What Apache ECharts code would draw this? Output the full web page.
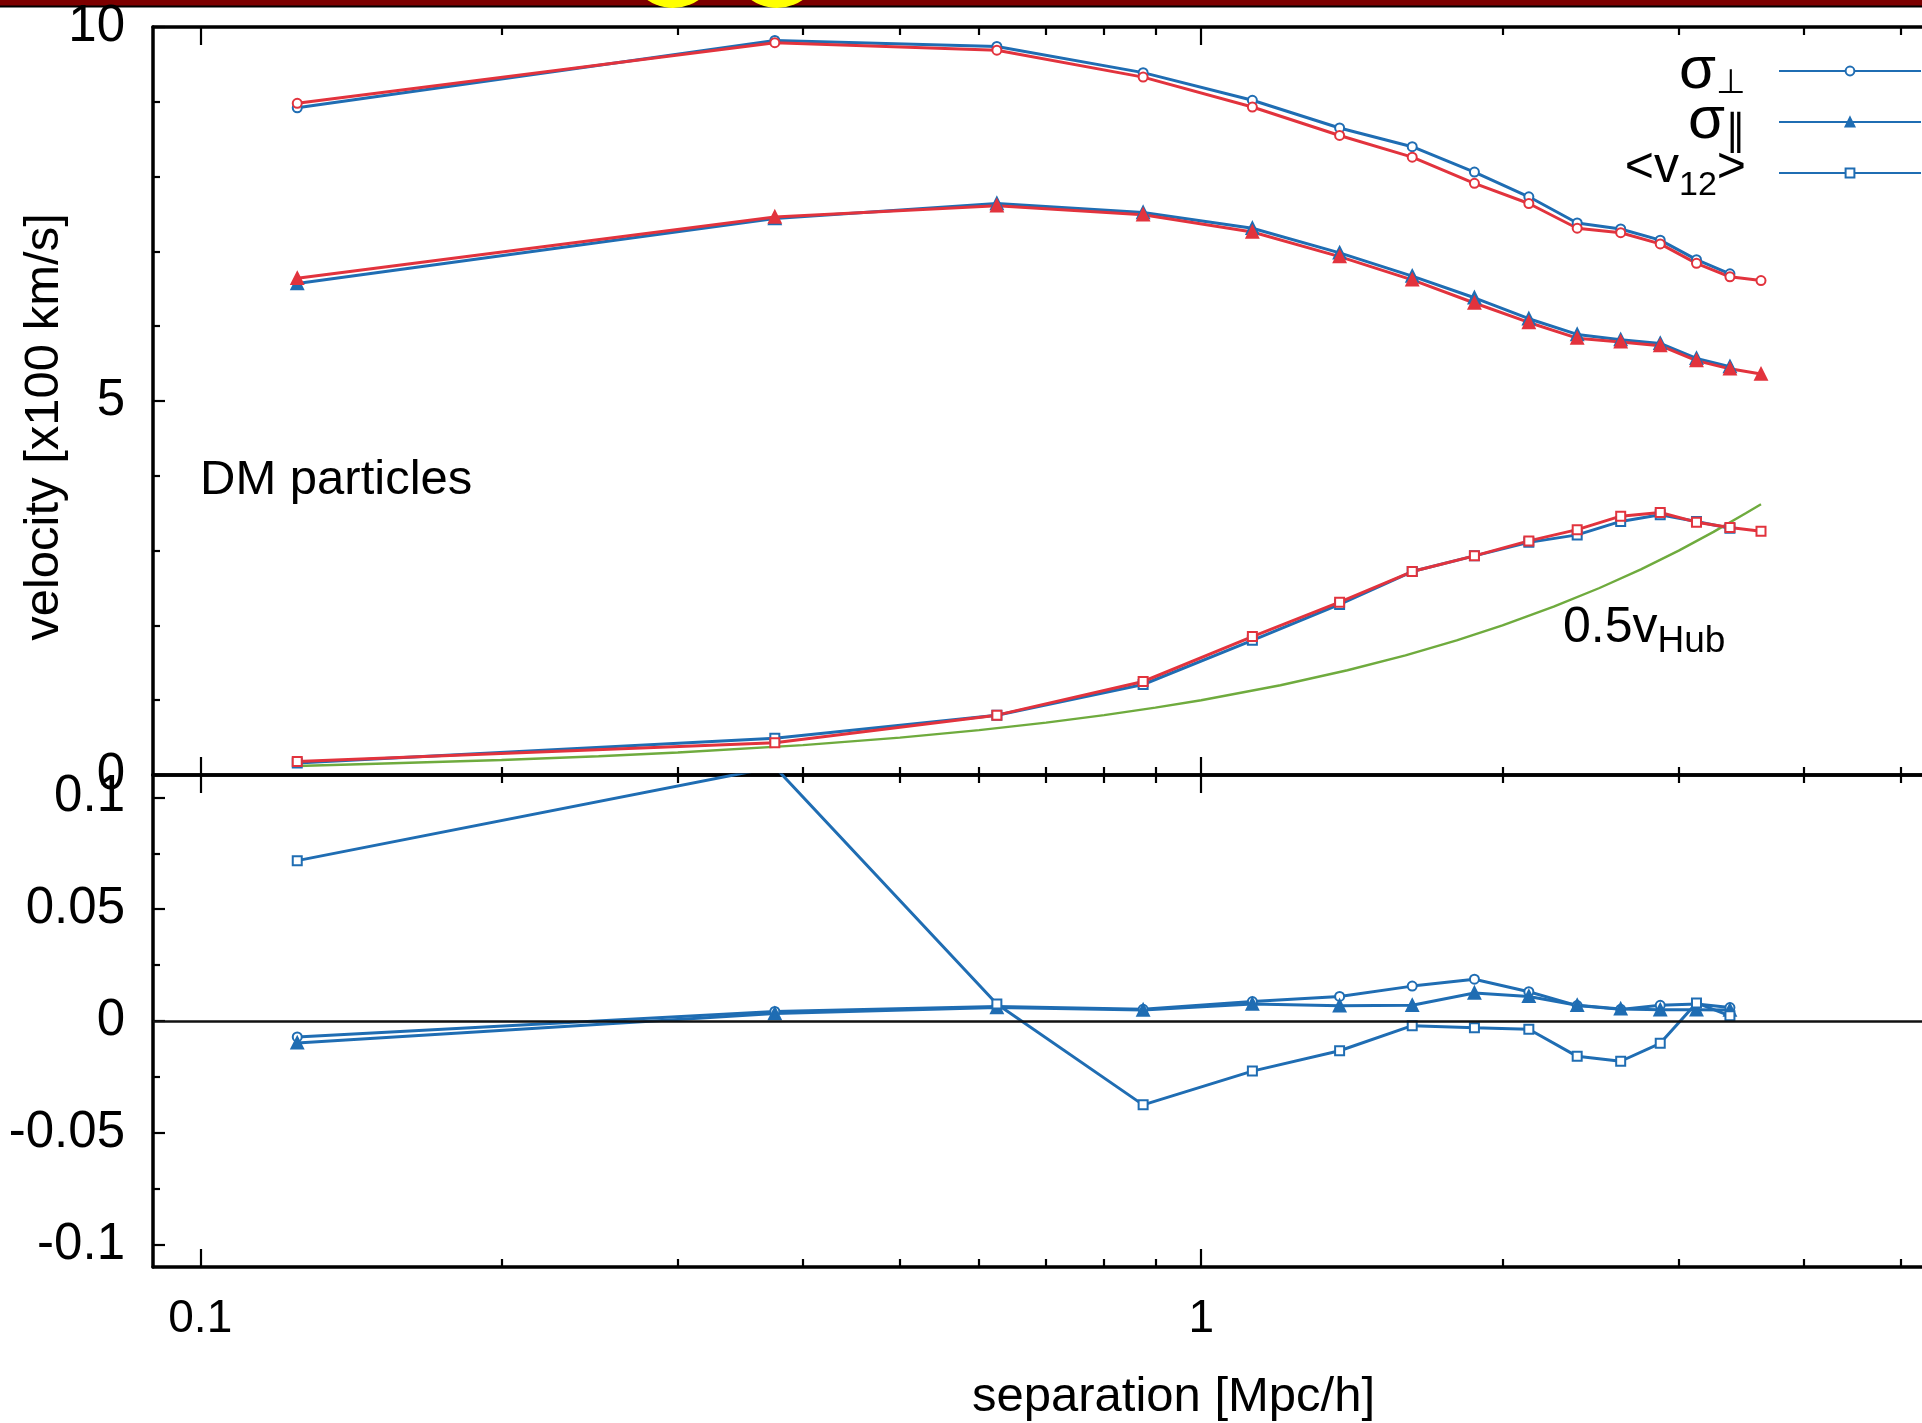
<!DOCTYPE html>
<html><head><meta charset="utf-8">
<script src="https://cdn.jsdelivr.net/npm/echarts@6/dist/echarts.min.js"></script>
<style>html,body{margin:0;padding:0;background:#fff}#c{width:1922px;height:1423px}</style>
</head><body><div id="c"></div>
<script>
// ---- data ----
const separation = [0.125, 0.375, 0.625, 0.875, 1.125, 1.375, 1.625, 1.875, 2.125, 2.375, 2.625, 2.875, 3.125, 3.375, 3.625];
// top panel (x100 km/s)
const sigmaPerpRed  = [8.98, 9.79, 9.69, 9.33, 8.93, 8.55, 8.26, 7.91, 7.64, 7.31, 7.25, 7.10, 6.84, 6.66, 6.61];
const sigmaPerpBlue = [8.92, 9.82, 9.74, 9.39, 9.02, 8.65, 8.40, 8.06, 7.73, 7.38, 7.30, 7.15, 6.89, 6.70];
const sigmaParRed   = [6.64, 7.46, 7.61, 7.49, 7.26, 6.93, 6.62, 6.31, 6.05, 5.84, 5.79, 5.74, 5.54, 5.43, 5.36];
const sigmaParBlue  = [6.57, 7.44, 7.64, 7.52, 7.31, 6.98, 6.67, 6.38, 6.10, 5.89, 5.82, 5.77, 5.57, 5.46];
const v12Red        = [0.18, 0.43, 0.80, 1.25, 1.85, 2.31, 2.72, 2.93, 3.13, 3.28, 3.46, 3.51, 3.38, 3.31, 3.26];
const v12Blue       = [0.16, 0.49, 0.80, 1.21, 1.80, 2.28, 2.72, 2.93, 3.11, 3.21, 3.39, 3.48, 3.39, 3.30];
const hubSeparation = [0.125, 0.15, 0.2, 0.25, 0.3, 0.4, 0.5, 0.6, 0.7, 0.8, 0.9, 1.0, 1.2, 1.4, 1.6, 1.8, 2.0, 2.25, 2.5, 2.75, 3.0, 3.25, 3.5, 3.625];
const halfHubble    = [0.12, 0.15, 0.2, 0.25, 0.3, 0.4, 0.5, 0.6, 0.7, 0.8, 0.9, 1.0, 1.2, 1.4, 1.6, 1.8, 2.0, 2.25, 2.5, 2.75, 3.0, 3.25, 3.5, 3.62];
// bottom panel (relative difference)
const diffPerp = [-0.0071, 0.0043, 0.0065, 0.0052, 0.0087, 0.0110, 0.0156, 0.0187, 0.0131, 0.0069, 0.0052, 0.0070, 0.0076, 0.0060];
const diffPar  = [-0.0098, 0.0033, 0.0060, 0.0049, 0.0076, 0.0068, 0.0070, 0.0125, 0.0110, 0.0070, 0.0054, 0.0050, 0.0050, 0.0049];
const diffV12  = [0.0717, 0.1136, 0.0076, -0.0375, -0.0224, -0.0133, -0.0021, -0.0030, -0.0037, -0.0158, -0.0180, -0.0100, 0.0081, 0.0023];
// ticks
const xMajorTicks = [0.1, 1];
const xMinorTicks = [0.2, 0.3, 0.4, 0.5, 0.6, 0.7, 0.8, 0.9, 2, 3, 4, 5];
const yTopLabels = [0, 5, 10];
const yBotMajor = [-0.1, -0.05, 0, 0.05, 0.1];
const yBotMinor = [-0.075, -0.025, 0.025, 0.075];
const legendNames = ['σ⊥', 'σ∥', '<v12>'];

// ---- chart ----
const FONT = "'Liberation Sans', Arial, Helvetica, sans-serif";
const BLUE = '#1f6db3', RED = '#e2333d', GREEN = '#6fab3e';
const X_MIN = 0.0897, X_MAX = 5.25;
const pairs = (xs, ys) => ys.map((y, i) => [xs[i], y]);

function xAx(grid, pos, ticks, len, line, extra) {
  return Object.assign({
    type: 'log', logBase: 10, min: X_MIN, max: X_MAX, gridIndex: grid, position: pos,
    axisLine: { show: line, onZero: false, lineStyle: { color: '#000', width: 3.5 } },
    axisTick: { show: true, inside: true, customValues: ticks, length: len, lineStyle: { color: '#000', width: 2.2 } },
    axisLabel: { show: false }, splitLine: { show: false }
  }, extra || {});
}

const xAxes = [
  xAx(0, 'bottom', xMinorTicks, 8, true),
  xAx(0, 'bottom', xMajorTicks, 18, false),
  xAx(0, 'top', xMinorTicks, 8, true),
  xAx(0, 'top', xMajorTicks, 18, false),
  xAx(1, 'bottom', xMinorTicks, 8, true, {
    name: 'separation [Mpc/h]', nameLocation: 'middle', nameGap: 106,
    nameTextStyle: { fontFamily: FONT, fontSize: 49, color: '#000', padding: [0, 0, 0, 272] },
    axisLabel: { show: true, customValues: xMajorTicks, margin: 29, fontFamily: FONT, fontSize: 46, color: '#000',
      formatter: v => String(v) }
  }),
  xAx(1, 'bottom', xMajorTicks, 18, false),
  xAx(1, 'top', xMinorTicks, 8, true),
  xAx(1, 'top', xMajorTicks, 18, false)
];

const yAxes = [
  { type: 'value', gridIndex: 0, position: 'left', min: 0, max: 10, interval: 5,
    name: 'velocity [x100 km/s]', nameLocation: 'middle', nameRotate: 90, nameGap: 84, nameMoveOverlap: false,
    nameTextStyle: { fontFamily: FONT, fontSize: 49, color: '#000', padding: [0, 52, 0, 0] },
    axisLine: { show: true, onZero: false, lineStyle: { color: '#000', width: 3.5 } },
    axisTick: { show: true, inside: true, length: 12, lineStyle: { color: '#000', width: 2.2 } },
    minorTick: { show: true, splitNumber: 5, length: 7, lineStyle: { color: '#000', width: 2.2 } },
    axisLabel: { show: true, customValues: yTopLabels, margin: 28, fontFamily: FONT, fontSize: 51, color: '#000' },
    splitLine: { show: false } },
  { type: 'value', gridIndex: 1, position: 'left', min: -0.11, max: 0.11,
    axisLine: { show: true, onZero: false, lineStyle: { color: '#000', width: 3.5 } },
    axisTick: { show: true, inside: true, length: 12, customValues: yBotMajor, lineStyle: { color: '#000', width: 2.2 } },
    axisLabel: { show: true, customValues: yBotMajor, margin: 28, fontFamily: FONT, fontSize: 51, color: '#000',
      formatter: v => String(Math.round(v * 1000) / 1000) },
    splitLine: { show: false } },
  { type: 'value', gridIndex: 1, position: 'left', min: -0.11, max: 0.11,
    axisLine: { show: false, onZero: false },
    axisTick: { show: true, inside: true, length: 7, customValues: yBotMinor, lineStyle: { color: '#000', width: 2.2 } },
    axisLabel: { show: false }, splitLine: { show: false } }
];

function lineSeries(name, data, color, symbol, size, xi, yi, extra) {
  return Object.assign({
    type: 'line', name: name, data: data, xAxisIndex: xi, yAxisIndex: yi,
    symbol: symbol, symbolSize: size, showSymbol: true, clip: true,
    lineStyle: { color: color, width: 3 },
    itemStyle: { color: color, borderColor: color, borderWidth: 2.4 },
    emphasis: { disabled: true }, animation: false
  }, extra || {});
}

const series = [
  lineSeries('σ⊥', pairs(separation, sigmaPerpBlue), BLUE, 'emptyCircle', 9, 0, 0),
  lineSeries('σ∥', pairs(separation, sigmaParBlue), BLUE, 'triangle', 11, 0, 0),
  lineSeries('<v12>', pairs(separation, v12Blue), BLUE, 'emptyRect', 9, 0, 0),
  lineSeries('0.5 vHub', pairs(hubSeparation, halfHubble), GREEN, 'none', 0, 0, 0,
    { showSymbol: false, lineStyle: { color: GREEN, width: 2.4 } }),
  lineSeries('σ⊥ (red)', pairs(separation, sigmaPerpRed), RED, 'emptyCircle', 9, 0, 0),
  lineSeries('σ∥ (red)', pairs(separation, sigmaParRed), RED, 'triangle', 11, 0, 0),
  lineSeries('<v12> (red)', pairs(separation, v12Red), RED, 'emptyRect', 9, 0, 0),
  lineSeries('Δσ⊥', pairs(separation, diffPerp), BLUE, 'emptyCircle', 9, 4, 1, {
    markLine: { silent: true, symbol: 'none', label: { show: false }, animation: false,
      lineStyle: { color: '#111', width: 2.6, type: 'solid' }, data: [{ yAxis: 0 }] } }),
  lineSeries('Δσ∥', pairs(separation, diffPar), BLUE, 'triangle', 11, 4, 1),
  lineSeries('Δ<v12>', pairs(separation, diffV12), BLUE, 'emptyRect', 9, 4, 1)
];

const legendRich = { 'σ⊥': '{g|σ}{s|⊥}', 'σ∥': '{g|σ}{p|∥}', '<v12>': '{m|<v}{s|12}{m|>}' };

const option = {
  backgroundColor: '#fff',
  animation: false,
  grid: [
    { left: 153, right: 0, top: 27, height: 748 },
    { left: 153, right: 0, top: 775, height: 495 }
  ],
  xAxis: xAxes,
  yAxis: yAxes,
  legend: {
    data: legendNames, orient: 'vertical', right: 0, top: 41, padding: 0, itemGap: -10,
    itemWidth: 142, itemHeight: 11, align: 'right', selectedMode: false,
    formatter: n => legendRich[n],
    textStyle: { color: '#000', fontFamily: FONT, fontSize: 48, padding: [0, 28, 0, 0],
      rich: {
        g: { fontFamily: FONT, fontSize: 60, verticalAlign: 'top', color: '#000' },
        m: { fontFamily: FONT, fontSize: 50, verticalAlign: 'top', color: '#000' },
        s: { fontFamily: FONT, fontSize: 34, lineHeight: 60, verticalAlign: 'bottom', color: '#000' },
        p: { fontFamily: FONT, fontSize: 42, lineHeight: 62, verticalAlign: 'bottom', color: '#000' }
      } }
  },
  graphic: [
    { type: 'rect', left: 0, top: 0, shape: { width: 1922, height: 7 }, style: { fill: '#7d0000' }, silent: true },
    { type: 'rect', left: 0, top: 5.5, shape: { width: 1922, height: 2 }, style: { fill: '#000' }, silent: true },
    { type: 'circle', shape: { cx: 673, cy: -37, r: 45 }, style: { fill: '#ffff00' }, silent: true },
    { type: 'circle', shape: { cx: 777, cy: -37, r: 45 }, style: { fill: '#ffff00' }, silent: true },
    { type: 'text', left: 200, top: 456, silent: true,
      style: { text: 'DM particles', fontFamily: FONT, fontSize: 49, fill: '#000' } },
    { type: 'text', left: 1563, top: 603, silent: true,
      style: { text: '{a|0.5v}{b|Hub}', fill: '#000',
        rich: { a: { fontFamily: FONT, fontSize: 50, verticalAlign: 'top' },
                b: { fontFamily: FONT, fontSize: 37, lineHeight: 57, verticalAlign: 'bottom' } } } }
  ],
  series: series
};

const chart = echarts.init(document.getElementById('c'), null, { renderer: 'canvas' });
chart.setOption(option);
</script>
</body></html>
